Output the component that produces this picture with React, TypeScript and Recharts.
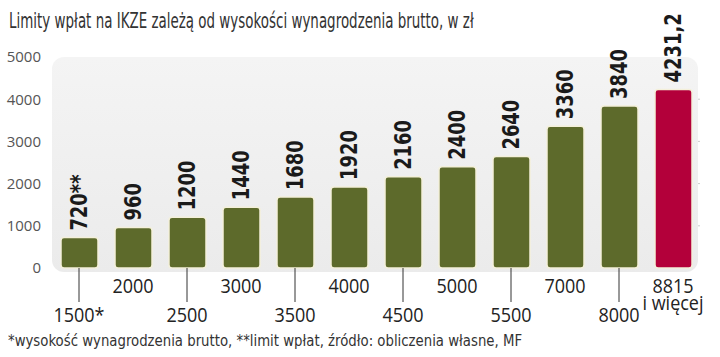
import { BarChart, Bar, XAxis, YAxis, CartesianGrid, Cell, LabelList, ReferenceArea } from "recharts";

const salaries = ["1500*", "2000", "2500", "3000", "3500", "4000", "4500", "5000", "5500", "7000", "8000", "8815\ni więcej"];
const limits = [720, 960, 1200, 1440, 1680, 1920, 2160, 2400, 2640, 3360, 3840, 4231.2];
const valueLabels = ["720**", "960", "1200", "1440", "1680", "1920", "2160", "2400", "2640", "3360", "3840", "4231,2"];
const yTicks = [0, 1000, 2000, 3000, 4000, 5000];
const gridValues = [1000, 2000, 3000, 4000];

const title = "Limity wpłat na IKZE zależą od wysokości wynagrodzenia brutto, w zł";
const footnote = "*wysokość wynagrodzenia brutto, **limit wpłat, źródło: obliczenia własne, MF";

const data = salaries.map((s, i) => ({ salary: s, limit: limits[i], label: valueLabels[i] }));

const OLIVE = "#5d6a2b";
const RED = "#b3003a";
const SANS = "'Open Sans', 'DejaVu Sans', sans-serif";

const XTick = (props: any) => {
  const { x, y, payload, index } = props;
  const lines = String(payload.value).split("\n");
  const low = index % 2 === 0;
  const top = y - 8; // axis line level
  return (
    <g>
      {low && <line x1={x} x2={x} y1={top} y2={top + 34} stroke="#333" strokeWidth={1} />}
      {lines.map((t, k) => (
        <text
          key={k}
          x={x}
          y={(low ? top + 54 : top + 25) + k * 17}
          textAnchor="middle"
          fontSize={20}
          fill="#222"
          fontFamily={SANS}
          transform={`translate(${x} 0) scale(0.9 1) translate(${-x} 0)`}
        >
          {t}
        </text>
      ))}
    </g>
  );
};

const ValueLabel = (props: any) => {
  const { x, y, width, value } = props;
  const cx = x + width / 2;
  const ty = y - 7;
  return (
    <text
      x={0}
      y={0}
      transform={`translate(${cx} ${ty}) rotate(-90) scale(0.78 1)`}
      textAnchor="start"
      dominantBaseline="central"
      fontSize={23}
      fontWeight="bold"
      fill="#1a1a1a"
      fontFamily="'DejaVu Sans', sans-serif"
    >
      {value}
    </text>
  );
};

const Background = (props: any) => {
  const { x, y, width, height } = props;
  return <rect x={x} y={y} width={width - 2} height={height + 4} rx={12} ry={12} fill="url(#bgGrad)" />;
};

export default function App() {
  return (
    <div style={{ position: "relative", width: 720, height: 357, background: "#fff", overflow: "hidden" }}>
      <style>{"body{margin:0}"}</style>
      <div
        style={{
          position: "absolute",
          left: 9,
          top: 9,
          fontSize: 21,
          color: "#333",
          whiteSpace: "nowrap",
          fontFamily: "'DejaVu Sans', sans-serif",
          transform: "scaleX(0.64)",
          transformOrigin: "left top",
        }}
      >
        {title}
      </div>
      <BarChart
        width={720}
        height={357}
        data={data}
        margin={{ top: 57, right: 20, left: 0, bottom: 0 }}
      >
        <defs>
          <linearGradient id="bgGrad" x1="0" y1="0" x2="0" y2="1">
            <stop offset="0%" stopColor="#f4f4f4" />
            <stop offset="100%" stopColor="#ebebeb" />
          </linearGradient>
        </defs>
        <ReferenceArea y1={0} y2={5000} shape={Background} ifOverflow="visible" />
        <CartesianGrid vertical={false} horizontalValues={gridValues} stroke="#cdcdcd" />
        <YAxis
          domain={[0, 5000]}
          ticks={yTicks}
          width={52}
          axisLine={false}
          tickLine={false}
          tick={{ fontSize: 15, fill: "#555", fontFamily: SANS }}
          tickMargin={5}
        />
        <XAxis
          dataKey="salary"
          axisLine={false}
          tickLine={false}
          height={89}
          interval={0}
          tick={<XTick />}
        />
        <Bar
          dataKey="limit"
          isAnimationActive={false}
          stroke="#f4f0da"
          strokeWidth={1.5}
          radius={3}
          barSize={37}
        >
          {data.map((d, i) => (
            <Cell key={d.salary} fill={i === data.length - 1 ? RED : OLIVE} />
          ))}
          <LabelList dataKey="label" content={<ValueLabel />} />
        </Bar>
      </BarChart>
      <div
        style={{
          position: "absolute",
          left: 8,
          top: 331,
          fontSize: 16,
          color: "#333",
          whiteSpace: "nowrap",
          fontFamily: "'DejaVu Sans', sans-serif",
          transform: "scaleX(0.83)",
          transformOrigin: "left top",
        }}
      >
        {footnote}
      </div>
    </div>
  );
}
